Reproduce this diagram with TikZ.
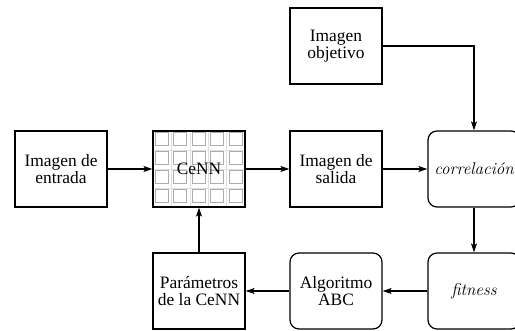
\documentclass[tikz,border=0pt]{standalone}
\usepackage{fontspec}
\setmainfont{Liberation Serif}
\newfontfamily\lmrfam{Latin Modern Roman}
\usetikzlibrary{arrows.meta}
\begin{document}
\begin{tikzpicture}[x=1pt,y=-1pt,
  box/.style={draw,line width=1.2pt,minimum width=92pt,minimum height=76pt,inner sep=0pt,align=center,font=\fontsize{17.4}{16.5}\selectfont},
  rbox/.style={box,rounded corners=9pt},
  itbox/.style={rbox,font=\fontsize{17}{16.5}\selectfont\lmrfam\itshape},
  conn/.style={line width=1.2pt,-{Stealth[length=9pt,width=6pt,inset=2pt]}}]
\useasboundingbox (0,0) rectangle (515,331);
% grid inside CeNN
\foreach \i in {0,...,4} {
  \foreach \j in {0,...,3} {
    \draw[gray!25,line width=0.4pt] (153+18.4*\i,131+19*\j) rectangle ++(18.4,19);
    \draw[gray!65,line width=0.9pt] (155.5+18.4*\i,132.8+19*\j) rectangle ++(13,12.6);
  }
}
\node[box] (ent) at (61,169) {Imagen de\\entrada};
\node[box] (cenn) at (199,169) {CeNN};
\node[box] (sal) at (336,169) {Imagen de\\salida};
\node[box] (obj) at (336,46) {Imagen\\objetivo};
\node[itbox] (cor) at (474,169) {correlación};
\node[itbox] (fit) at (474,291) {fitness};
\node[rbox] (abc) at (336,291) {Algoritmo\\ABC};
\node[box] (par) at (199,291) {Parámetros\\de la CeNN};
\draw[conn] (ent) -- (cenn);
\draw[conn] (cenn) -- (sal);
\draw[conn] (sal) -- (cor);
\draw[conn] (obj.east) -| (cor.north);
\draw[conn] (cor) -- (fit);
\draw[conn] (fit) -- (abc);
\draw[conn] (abc) -- (par);
\draw[conn] (par) -- (cenn);
\end{tikzpicture}
\end{document}
